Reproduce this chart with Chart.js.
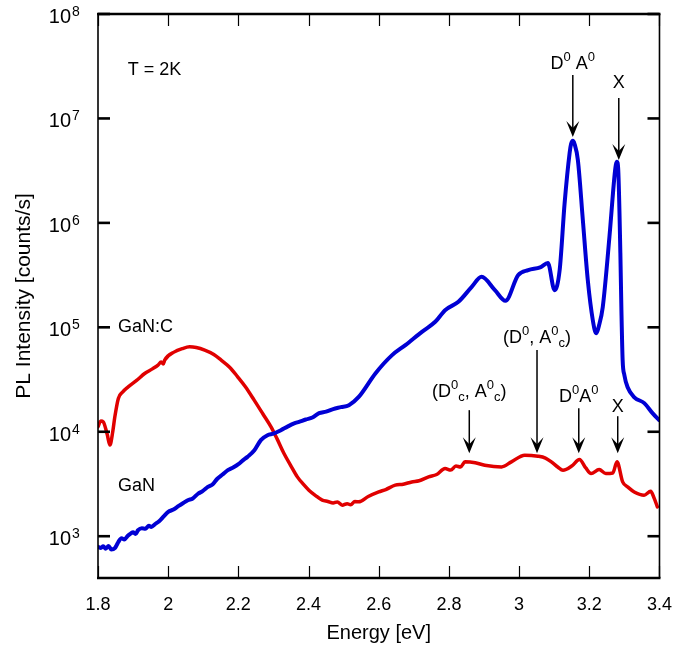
<!DOCTYPE html>
<html><head><meta charset="utf-8">
<script src="https://cdn.jsdelivr.net/npm/chart.js@4/dist/chart.umd.min.js"></script>
<style>html,body{margin:0;padding:0;background:#fff}</style>
</head><body>
<canvas id="c" width="688" height="648" style="display:block;width:688px;height:648px"></canvas>
<script>
// ---- data ----
const energyGaN = [1.800,1.808,1.815,1.822,1.830,1.838,1.848,1.853,1.858,1.867,1.875,1.885,1.893,1.900,1.907,1.914,1.925,1.935,1.945,1.952,1.962,1.975,1.988,2.000,2.015,2.030,2.043,2.056,2.070,2.085,2.098,2.113,2.127,2.140,2.155,2.170,2.185,2.200,2.212,2.226,2.245,2.264,2.283,2.300,2.321,2.340,2.359,2.373,2.392,2.411,2.430,2.450,2.470,2.492,2.515,2.543,2.591,2.638,2.676,2.723,2.761,2.789,2.827,2.865,2.893,2.931,2.961,2.997,3.026,3.060,3.082,3.101,3.1155,3.1297,3.1439,3.148,3.1532,3.158,3.1674,3.1816,3.1957,3.210,3.2193,3.228,3.2383,3.2573,3.2715,3.2755,3.2789,3.2825,3.2885,3.2915,3.295,3.300,3.3092,3.3282,3.3566,3.3801,3.3991];
const intensityGaN = [791,770,800,760,805,745,767,820,880,957,930,1010,1060,1090,1050,1140,1190,1180,1260,1227,1300,1400,1560,1710,1800,1950,2080,2213,2300,2550,2700,2965,3150,3550,3900,4285,4550,4900,5300,5750,6600,8320,9270,9600,10350,11200,12020,12450,13100,13700,15070,15600,16500,17200,17990,21580,36390,54180,67600,90600,113000,146000,175500,244000,304500,227000,179500,316000,353000,375000,412000,227000,353000,1550000,4670000,5690000,6110000,5690000,4000000,1064000,283000,117000,87900,105000,156000,731000,2750000,3580000,3850000,3200000,514000,146000,48500,34800,26700,21400,18800,15070,12900];
const energyGaNC = [1.800,1.808,1.815,1.826,1.834,1.842,1.848,1.858,1.870,1.886,1.910,1.933,1.955,1.971,1.980,1.986,1.990,2.018,2.040,2.061,2.080,2.104,2.130,2.151,2.175,2.198,2.220,2.245,2.270,2.293,2.310,2.330,2.350,2.368,2.385,2.401,2.420,2.439,2.455,2.470,2.482,2.496,2.510,2.520,2.532,2.543,2.570,2.600,2.620,2.647,2.670,2.694,2.715,2.742,2.765,2.789,2.805,2.820,2.833,2.846,2.875,2.902,2.950,2.978,3.016,3.054,3.075,3.092,3.110,3.125,3.150,3.172,3.190,3.205,3.228,3.247,3.267,3.279,3.295,3.310,3.328,3.356,3.375,3.385,3.394];
const intensityGaNC = [11140,12700,12450,9500,7450,10000,13900,20840,24000,26900,31000,36150,40000,43450,46500,44500,48500,58200,62500,65000,64000,60500,55000,48500,41500,33600,27000,20100,14800,11140,8600,6200,4700,3700,3150,2760,2450,2213,2150,2080,2130,1983,2050,2000,2150,2133,2400,2655,2800,3080,3150,3310,3400,3700,3900,4450,4300,4700,4600,5150,5050,4790,4610,5150,5970,5830,5600,5150,4600,4285,4700,5430,4500,3980,4350,3980,4035,5150,3310,2950,2655,2470,2700,2300,1910];
const xTickValues = [1.8,2,2.2,2.4,2.6,2.8,3,3.2,3.4];
const yDecades = [3,4,5,6,7,8];

// annotation arrows: energy, log10 start, log10 tip, log10 label, label parts
const arrows = [
  {e:3.153, y0:7.416, y1:6.822, ly:7.540, parts:[['D'],['0','sup'],[' A'],['0','sup']]},
  {e:3.284, y0:7.195, y1:6.602, ly:7.349, parts:[['X']]},
  {e:3.051, y0:4.782, y1:3.795, ly:4.916, parts:[['(D'],['0','sup'],[', A'],['0','sup'],['c','sub'],[')']]},
  {e:2.858, y0:4.207, y1:3.795, ly:4.398, parts:[['(D'],['0','sup'],['c','sub'],[', A'],['0','sup'],['c','sub'],[')']]},
  {e:3.170, y0:4.226, y1:3.795, ly:4.351, parts:[['D'],['0','sup'],['A'],['0','sup']]},
  {e:3.281, y0:4.149, y1:3.795, ly:4.255, parts:[['X']]}
];
const texts = [
  {e:1.885, ly:7.464, t:'T = 2K'},
  {e:1.857, ly:5.002, t:'GaN:C'},
  {e:1.857, ly:3.479, t:'GaN'}
];

const FONT = '"Liberation Sans", Arial, sans-serif';

function richWidth(ctx, parts, size){
  let w = 0;
  parts.forEach(p => { ctx.font = (p[1] ? Math.round(size*0.72) : size) + 'px ' + FONT; w += ctx.measureText(p[0]).width; });
  return w;
}
function drawRich(ctx, parts, x, cy, size, align){
  const w = richWidth(ctx, parts, size);
  let cx = align === 'center' ? x - w/2 : (align === 'right' ? x - w : x);
  const base = cy + size*0.36;
  ctx.textAlign = 'left'; ctx.textBaseline = 'alphabetic'; ctx.fillStyle = '#000';
  parts.forEach(p => {
    const small = !!p[1];
    ctx.font = (small ? Math.round(size*0.72) : size) + 'px ' + FONT;
    let y = base;
    if (p[1] === 'sup') y = base - size*0.40;
    if (p[1] === 'sub') y = base + size*0.22;
    ctx.fillText(p[0], cx, y);
    cx += ctx.measureText(p[0]).width;
  });
}

const framePlugin = {
  id: 'frame',
  afterDraw(chart){
    const {ctx, chartArea: a, scales: {x, y}} = chart;
    ctx.save();
    ctx.strokeStyle = '#000'; ctx.lineCap = 'butt';
    // frame
    ctx.lineWidth = 2.5;
    ctx.beginPath(); ctx.moveTo(a.left-1, a.top); ctx.lineTo(a.right+1, a.top); ctx.stroke();
    ctx.beginPath(); ctx.moveTo(a.left-1, a.bottom); ctx.lineTo(a.right+1, a.bottom); ctx.stroke();
    ctx.lineWidth = 1.6;
    ctx.beginPath(); ctx.moveTo(a.left, a.top); ctx.lineTo(a.left, a.bottom); ctx.stroke();
    ctx.beginPath(); ctx.moveTo(a.right, a.top); ctx.lineTo(a.right, a.bottom); ctx.stroke();
    // x ticks (inward, bottom & top)
    ctx.lineWidth = 1.2;
    xTickValues.forEach(v => {
      const px = Math.round(x.getPixelForValue(v)) + 0.5;
      ctx.beginPath(); ctx.moveTo(px, a.bottom); ctx.lineTo(px, a.bottom - 12); ctx.stroke();
      ctx.beginPath(); ctx.moveTo(px, a.top); ctx.lineTo(px, a.top + 12); ctx.stroke();
    });
    // y ticks (inward, left & right) and labels
    ctx.lineWidth = 2.6;
    yDecades.forEach(d => {
      const py = y.getPixelForValue(Math.pow(10, d));
      ctx.beginPath(); ctx.moveTo(a.left, py); ctx.lineTo(a.left + 12, py); ctx.stroke();
      ctx.beginPath(); ctx.moveTo(a.right, py); ctx.lineTo(a.right - 12, py); ctx.stroke();
      ctx.fillStyle = '#000';
      ctx.font = '20px ' + FONT; ctx.textAlign = 'right'; ctx.textBaseline = 'alphabetic';
      ctx.fillText('10', 71, py + 9);
      ctx.font = '14px ' + FONT; ctx.textAlign = 'left';
      ctx.fillText(String(d), 72, py + 2);
    });
    // text labels
    texts.forEach(t => {
      ctx.font = '18px ' + FONT; ctx.fillStyle = '#000'; ctx.textAlign = 'left'; ctx.textBaseline = 'middle';
      ctx.fillText(t.t, x.getPixelForValue(t.e), y.getPixelForValue(Math.pow(10, t.ly)));
    });
    // arrows
    arrows.forEach(ar => {
      const px = x.getPixelForValue(ar.e);
      const p0 = y.getPixelForValue(Math.pow(10, ar.y0));
      const p1 = y.getPixelForValue(Math.pow(10, ar.y1));
      ctx.strokeStyle = '#000'; ctx.lineWidth = 1.5;
      ctx.beginPath(); ctx.moveTo(px, p0); ctx.lineTo(px, p1 - 8); ctx.stroke();
      ctx.fillStyle = '#000';
      ctx.beginPath();
      ctx.moveTo(px, p1); ctx.lineTo(px - 6.5, p1 - 16); ctx.lineTo(px, p1 - 9); ctx.lineTo(px + 6.5, p1 - 16); ctx.closePath();
      ctx.fill();
      drawRich(ctx, ar.parts, px, y.getPixelForValue(Math.pow(10, ar.ly)), 18, 'center');
    });
    ctx.restore();
  }
};

const toPts = (xs, ys) => xs.map((e, i) => ({x: e, y: ys[i]}));

new Chart(document.getElementById('c').getContext('2d'), {
  type: 'line',
  data: {
    datasets: [
      {label: 'GaN', data: toPts(energyGaN, intensityGaN), borderColor: '#0000d4', borderWidth: 4, pointRadius: 0, cubicInterpolationMode: 'monotone', fill: false, borderJoinStyle: 'round', borderCapStyle: 'round'},
      {label: 'GaN:C', data: toPts(energyGaNC, intensityGaNC), borderColor: '#e00000', borderWidth: 3.5, pointRadius: 0, cubicInterpolationMode: 'monotone', fill: false, borderJoinStyle: 'round', borderCapStyle: 'round'}
    ]
  },
  options: {
    responsive: false, animation: false, devicePixelRatio: 1,
    layout: {padding: {top: 14, right: 26, left: 0, bottom: 0}},
    plugins: {legend: {display: false}, tooltip: {enabled: false}},
    scales: {
      x: {
        type: 'linear', min: 1.8, max: 3.4,
        afterBuildTicks: s => { s.ticks = xTickValues.map(v => ({value: v})); },
        ticks: {font: {size: 18, family: FONT}, color: '#000', padding: 16, maxRotation: 0, autoSkip: false, callback: v => String(+Number(v).toFixed(1))},
        grid: {display: false, drawTicks: false}, border: {display: false},
        title: {display: true, text: 'Energy [eV]', font: {size: 20, family: FONT}, color: '#000', padding: {top: 0, bottom: 3}},
        afterFit: s => { s.height = 70; }
      },
      y: {
        type: 'logarithmic', min: 398, max: 1e8,
        afterBuildTicks: s => { s.ticks = yDecades.map(d => ({value: Math.pow(10, d)})); },
        ticks: {display: false},
        grid: {display: false, drawTicks: false}, border: {display: false},
        title: {display: true, text: 'PL Intensity [counts/s]', font: {size: 21, family: FONT}, color: '#000', padding: {top: 12, bottom: 0}},
        afterFit: s => { s.width = 98; }
      }
    }
  },
  plugins: [framePlugin]
});
</script>
</body></html>
